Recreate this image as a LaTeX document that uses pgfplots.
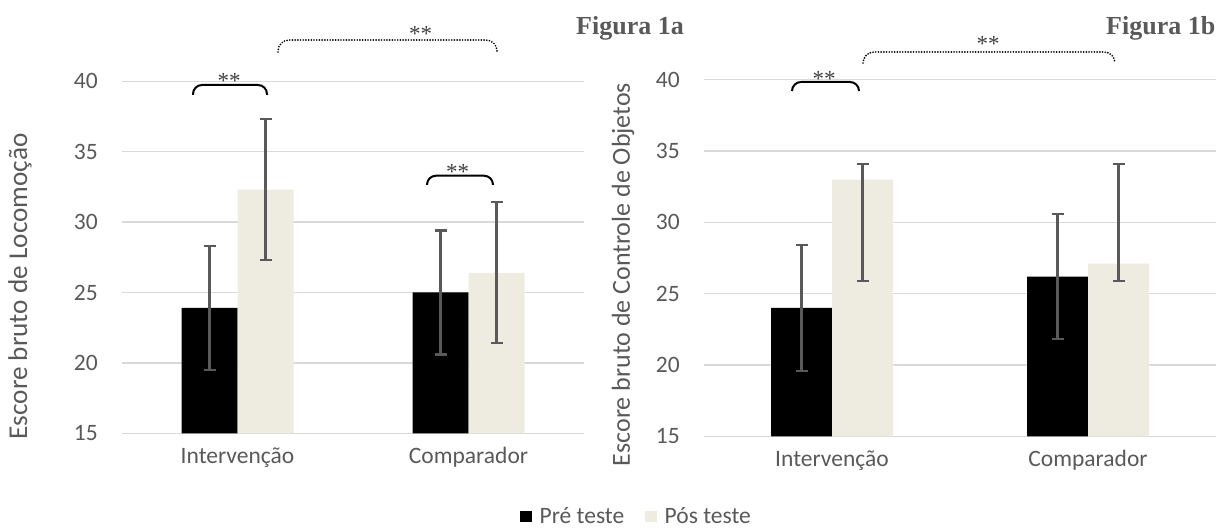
\documentclass[border=0pt]{standalone}
\usepackage{fontspec}
\setmainfont{Carlito}
\newfontfamily\timesfont{Liberation Serif}
\usepackage{pgfplots}
\pgfplotsset{compat=1.18}

\definecolor{txtgray}{HTML}{595959}
\definecolor{gridgray}{HTML}{D9D9D9}
\definecolor{errgray}{HTML}{595959}
\definecolor{posfill}{HTML}{EEECE1}
\definecolor{stargray}{HTML}{404040}

\newcommand\ticksize{\fontsize{23.5}{28}\selectfont}
\newcommand\labsize{\fontsize{26}{30}\selectfont}

\pgfplotsset{
  panel/.style={
    scale only axis,
    ybar=0pt,
    every axis plot post/.append style={
      legend image code/.code={\fill[##1] (0pt,-5.5pt) rectangle (11.5pt,6pt);}},
    ymin=15, ymax=40, ytick={15,20,...,40},
    xmin=-0.5, xmax=1.5, xtick={0,1},
    xticklabels={Intervenção, Comparador},
    axis line style={draw=none},
    major tick length=0pt,
    ymajorgrids, major grid style={draw=gridgray, line width=1.3pt},
    tick label style={font=\ticksize, text=txtgray},
    /pgf/number format/assume math mode=true,
    yticklabel style={anchor=east, inner sep=0pt, xshift=-24pt},
    xticklabel style={anchor=base, inner sep=0pt, yshift=-30.3pt},
    clip=false,
  },
  errs/.style={
    /tikz/line width=2.2pt,
    error bars/.cd,
      y dir=both, y explicit,
      error bar style={draw=errgray, line width=2.2pt},
      error mark=-,
      error mark options={draw=errgray, line width=2.2pt, mark size=6pt, rotate=90},
  },
}
\tikzset{
  bracket/.style={line width=2pt, rounded corners=9pt},
  dotbracket/.style={line width=1.9pt, line cap=round, dash pattern=on 0pt off 2.7pt, rounded corners=11pt},
  stars/.style={font=\timesfont\fontsize{23}{25}\selectfont, text=stargray, inner sep=0pt},
}

\begin{document}
\begin{tikzpicture}[x=1pt, y=1pt]
\path[use as bounding box] (0,0) rectangle (1220,529);

% Figura 1a: locomocao
\begin{axis}[panel, at={(122pt,95.7pt)}, anchor=south west,
  width=462pt, height=352pt, bar width=56pt,
  legend style={at={(1.1115,-0.2365)}, anchor=center, draw=none, fill=none,
    legend columns=-1, font=\ticksize, text=txtgray,
    nodes={inner sep=0pt},
    /tikz/every odd column/.append style={column sep=8pt},
    /tikz/every even column/.append style={column sep=21pt}},
]
\addplot[fill=black, draw=none, errs] coordinates {(0,23.9) +- (0,4.4) (1,25.0) +- (0,4.4)};
\addplot[fill=posfill, draw=none, errs] coordinates {(0,32.3) +- (0,5.0) (1,26.4) +- (0,5.0)};
\addlegendentry{Pré teste}
\addlegendentry{Pós teste}
\end{axis}

% Figura 1b: controle de objetos
\begin{axis}[panel, at={(704pt,92.7pt)}, anchor=south west,
  width=512pt, height=356.5pt, bar width=61pt]
\addplot[fill=black, draw=none, errs] coordinates {(0,24.0) +- (0,4.4) (1,26.2) +- (0,4.4)};
\addplot[fill=posfill, draw=none, errs] coordinates {(0,33.0) += (0,1.1) -= (0,7.1) (1,27.1) += (0,7.0) -= (0,1.2)};
\end{axis}

% axis titles
\node[rotate=90, font=\fontsize{27.2}{30}\selectfont, text=txtgray] at (20,242.5) {Escore bruto de Locomoção};
\node[rotate=90, font=\labsize, text=txtgray] at (623,254.5) {Escore bruto de Controle de Objetos};

% panel names
\node[anchor=base west, inner sep=0pt, font=\timesfont\bfseries\fontsize{26}{30}\selectfont, text=txtgray] at (576,494) {Figura 1a};
\node[anchor=base west, inner sep=0pt, font=\timesfont\bfseries\fontsize{26}{30}\selectfont, text=txtgray] at (1106,494) {Figura 1b};

% significance brackets
\draw[bracket] (193,434) -- (193,444) -- (267,444) -- (267,434);
\draw[dotbracket] (278,477) -- (278,489) -- (497,489) -- (497,477);
\draw[bracket] (427,344) -- (427,353.3) -- (493,353.3) -- (493,344);
\draw[bracket] (792,438) -- (792,447) -- (859,447) -- (859,438);
\draw[dotbracket] (863,466) -- (863,477) -- (1115,477) -- (1115,466);

\node[stars] at (229,448.3) {**};
\node[stars] at (420.5,494.8) {**};
\node[stars] at (457.5,357.3) {**};
\node[stars] at (824,450.3) {**};
\node[stars] at (988,484.8) {**};
\end{tikzpicture}
\end{document}
